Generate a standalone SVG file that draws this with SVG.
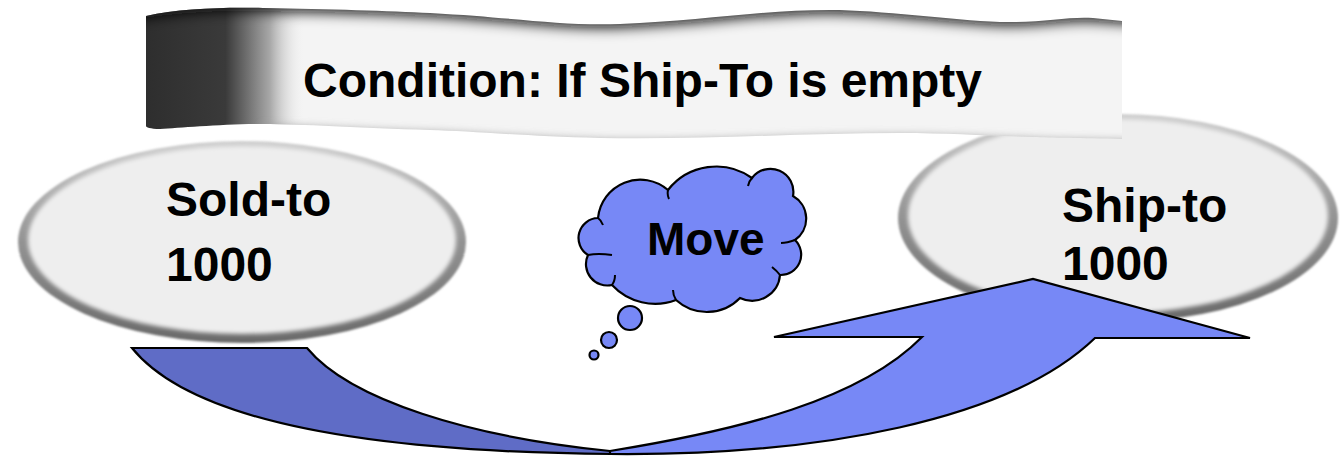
<svg xmlns="http://www.w3.org/2000/svg" width="1340" height="457" viewBox="0 0 1340 457">
<style>
.lbl{font-family:"Liberation Sans",Arial,sans-serif;font-weight:bold;fill:#000}
.blue{fill:#7788f6;stroke:#000;stroke-width:2.2;stroke-linejoin:miter}
.dark{fill:#5f6cc6;stroke:#000;stroke-width:2.2}
</style>
<defs>
<filter id="b1" x="-10%" y="-10%" width="120%" height="120%"><feGaussianBlur stdDeviation="1.2"/></filter>
<filter id="b3" x="-10%" y="-10%" width="120%" height="120%"><feGaussianBlur stdDeviation="2.2"/></filter>
<filter id="bt" filterUnits="userSpaceOnUse" x="100" y="-40" width="1080" height="120"><feGaussianBlur stdDeviation="7"/></filter>
<filter id="bb" filterUnits="userSpaceOnUse" x="100" y="90" width="1080" height="90"><feGaussianBlur stdDeviation="4"/></filter>
<linearGradient id="rim" x1="0" y1="0" x2="0" y2="1">
<stop offset="0" stop-color="#d0d0d0"/>
<stop offset="0.5" stop-color="#939393"/>
<stop offset="1" stop-color="#6a6a6a"/>
</linearGradient>
<linearGradient id="leftShade" gradientUnits="userSpaceOnUse" x1="146" y1="0" x2="305" y2="0">
<stop offset="0" stop-color="#2e2e2e"/>
<stop offset="0.5" stop-color="#3a3a3a"/>
<stop offset="0.78" stop-color="#a8a8a8"/>
<stop offset="1" stop-color="#f4f4f4" stop-opacity="0"/>
</linearGradient>
<clipPath id="bannerClip">
<path d="M146,16 C180,8 230,7 263,8 C330,9 390,11 430,13 C520,18 560,26 620,24 C700,21 760,10 830,10 C880,10 950,20 1000,22 C1040,23 1070,16 1093,18 L1122,21 L1122,139 C1080,138 1050,138 1033,137 C990,136 950,133 900,133 C800,133 700,140 600,138 C520,136 470,131 430,130 C360,128 300,124 263,124 C220,124 180,128 160,129 C150,129 146,127 146,126 Z"/>
</clipPath>
</defs>
<rect width="1340" height="457" fill="#fff"/>

<g id="sold-to">
<ellipse cx="242" cy="242" rx="224" ry="101" fill="url(#rim)" filter="url(#b1)"/>
<ellipse cx="242" cy="240" rx="214" ry="94" fill="#eeeeee" filter="url(#b3)"/>
<text class="lbl" font-size="48" x="166" y="216">Sold-to</text>
<text class="lbl" font-size="48" x="166" y="281">1000</text>
</g>

<g id="ship-to">
<ellipse cx="1118" cy="218" rx="220" ry="104" fill="url(#rim)" filter="url(#b1)"/>
<ellipse cx="1118" cy="216" rx="210" ry="97" fill="#eeeeee" filter="url(#b3)"/>
<text class="lbl" font-size="48" x="1062" y="222">Ship-to</text>
<text class="lbl" font-size="48" x="1062" y="280">1000</text>
</g>

<g id="condition">
<g clip-path="url(#bannerClip)">
<rect x="140" y="0" width="990" height="145" fill="#f4f4f4"/>
<rect x="140" y="0" width="165" height="145" fill="url(#leftShade)"/>
<path d="M120,12 C180,2 230,1 263,2 C330,3 390,5 430,7 C520,12 560,20 620,18 C700,15 760,4 830,4 C880,4 950,14 1000,16 C1040,17 1070,10 1093,12 L1140,15" fill="none" stroke="#111" stroke-width="18" filter="url(#bt)"/>
<path d="M1140,145 C1080,144 1050,144 1033,143 C990,142 950,139 900,139 C800,139 700,146 600,144 C520,142 470,137 430,136 C360,134 300,130 263,130" fill="none" stroke="#9a9a9a" stroke-width="8" filter="url(#bb)"/>
</g>
<text class="lbl" font-size="48" x="303" y="96.5">Condition: If Ship-To is empty</text>
</g>

<g id="move">
<path class="blue" d="M598,218 A42.4,42.4 0 0 1 668,190 A61.5,61.5 0 0 1 752,178 A23,23 0 0 1 793,196 A26,26 0 0 1 795,240 A20.4,20.4 0 0 1 780,275 A28,28 0 0 1 740,298 A46,46 0 0 1 676,300 A59,59 0 0 1 612,285 A21.4,21.4 0 0 1 588,255 A20,20 0 0 1 598,218 Z"/>
<path d="M598,218 q3,2 5,7 M668,190 q-1,5 1,9 M752,178 q-3,3 -4,8 M795,240 q-8,3 -14,3 M780,275 q-3,-4 -8,-8 M676,300 q-3,-5 -3,-10 M612,285 q3,-4 3,-10 M588,255 q10,-2 24,0" fill="none" stroke="#000" stroke-width="2"/>
<circle class="blue" cx="630" cy="318" r="12"/>
<circle class="blue" cx="609" cy="340" r="8"/>
<circle class="blue" cx="594" cy="355" r="4.5"/>
<text class="lbl" font-size="46" x="647" y="255">Move</text>
</g>

<g id="connectors">
<path class="dark" d="M132,348 L307,348 C350,400 470,437 610,451 L612,454 C360,452 190,420 132,348 Z"/>
<path class="blue" d="M610,451 C740,430 860,400 922,337 L774,337 L1033,279 L1250,338 L1095,338 C1010,420 820,456 610,454 Z"/>
</g>
</svg>
